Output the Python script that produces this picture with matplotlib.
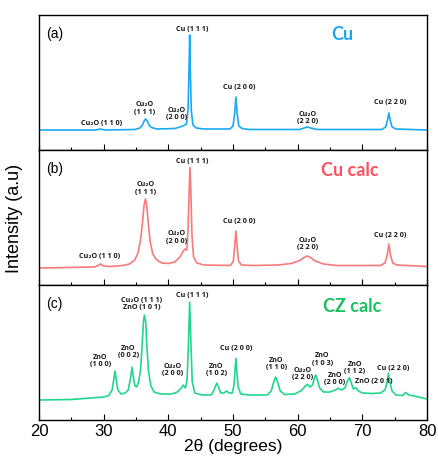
import matplotlib
matplotlib.use("Agg")
import matplotlib.pyplot as plt
from matplotlib.ticker import MultipleLocator

# ---------------- data ----------------
# Panel (a): Cu
cu_x = [20, 28.8, 29.5, 30.2, 34.8, 35.6, 36.0, 36.25, 36.5, 36.75, 37.0, 37.4, 38.2,
        41.0, 41.8, 42.4, 42.8, 43.05, 43.18, 43.3, 43.42, 43.55, 43.8, 44.3, 45.5,
        49.5, 50.0, 50.25, 50.45, 50.65, 50.9, 51.4, 52.5, 60.3, 61.0, 61.5, 62.0, 63.0,
        73.0, 73.6, 73.9, 74.1, 74.3, 74.6, 75.2, 80]
cu_y = [20, 20, 21, 20, 20.5, 22, 25, 29, 31, 29, 25, 22.5, 21,
        21.5, 23, 24.5, 26, 40, 75, 115, 75, 40, 25, 22, 21,
        21, 24, 36, 53, 36, 24, 21.5, 20.5, 20.5, 22, 23, 22, 20.5,
        20.5, 23, 30, 37, 30, 23, 21, 20]

# Panel (b): Cu calc
cuc_x = [20, 28.5, 29.0, 29.5, 30.0, 31, 33, 34, 34.8, 35.3, 35.7, 36.0, 36.25, 36.45,
         36.65, 36.9, 37.2, 37.6, 38.2, 39.0, 40.0, 41.0, 41.8, 42.3, 42.6, 42.85, 43.05,
         43.2, 43.35, 43.5, 43.65, 43.9, 44.4, 45.5, 49.6, 50.05, 50.25, 50.45, 50.65,
         50.85, 51.3, 53, 57, 59, 60.3, 61.0, 61.5, 62.0, 62.7, 64, 66, 72.8, 73.5, 73.85,
         74.1, 74.35, 74.7, 75.3, 80]
cuc_y = [17, 18, 19, 21, 19, 18.5, 19.5, 21, 25, 32, 45, 62, 80, 86,
         80, 62, 43, 31, 25, 22, 21.5, 23, 28, 34, 36, 35, 55,
         90, 117.7, 90, 50, 28, 22, 20, 19.5, 24, 38, 54, 38,
         24, 20, 19.5, 20, 21.5, 24.5, 27.5, 29, 27.5, 24, 21, 19.5, 19.5, 22, 30,
         41, 30, 22, 20, 18.5]

# Panel (c): CZ calc
cz_x = [20, 25, 28, 30, 30.8, 31.3, 31.55, 31.75, 31.95, 32.2, 32.7, 33.3, 33.8, 34.1,
        34.4, 34.6, 34.85, 35.1, 35.4, 35.7, 35.95, 36.15, 36.3, 36.5, 36.7, 36.95, 37.3,
        37.8, 38.8, 40.5, 41.4, 42.0, 42.3, 42.65, 42.9, 43.1, 43.3, 43.5, 43.7, 44.1,
        45.2, 46.6, 47.0, 47.3, 47.5, 47.75, 48.1, 48.6, 49.0, 49.4, 49.9, 50.15, 50.3,
        50.45, 50.6, 50.8, 51.2, 52.5, 55.3, 55.9, 56.3, 56.6, 56.9, 57.3, 58.0, 59.5,
        60.5, 61.2, 61.5, 61.9, 62.3, 62.6, 62.8, 63.05, 63.4, 64.0, 65.0, 65.8, 66.3,
        66.8, 67.3, 67.7, 68.0, 68.3, 68.6, 69.0, 69.4, 70.0, 71.5, 72.8, 73.5, 73.8,
        74.05, 74.3, 74.6, 75.2, 76.2, 76.7, 77.2, 78, 80]
cz_y = [20, 20.5, 22, 23, 24.5, 30, 40, 49, 40, 30, 26, 27, 30, 40,
        52.7, 42, 34, 33, 38, 50, 75, 98, 105, 98, 72, 48, 34,
        28, 26, 26, 28, 32, 35, 32, 40, 75, 117.7, 75, 38, 27,
        25, 25, 29, 34, 36.7, 33, 27, 27, 29, 27, 27, 35, 48,
        61.7, 48, 33, 26, 25, 25, 29, 38, 43, 38, 29, 25.5, 26,
        29, 34, 35.7, 33, 35, 42, 45, 40, 32, 28, 28, 30, 31.7,
        30, 32, 39, 42.3, 37, 31, 32.3, 29, 27, 26.5, 27, 30, 37,
        46.7, 37, 29, 25, 24.5, 27.5, 25, 24, 21]

series_x = [cu_x, cuc_x, cz_x]
series_y = [cu_y, cuc_y, cz_y]
panel_tags = ["(a)", "(b)", "(c)"]
sample_names = ["Cu", "Cu calc", "CZ calc"]

# peak labels: (text, 2theta, intensity)
labels_a = [("Cu\u2082O (1 1 0)", 29.7, 26), ("Cu\u2082O\n(1 1 1)", 36.4, 41.3),
            ("Cu\u2082O\n(2 0 0)", 41.3, 36), ("Cu (1 1 1)", 43.75, 121),
            ("Cu (2 0 0)", 50.9, 62), ("Cu\u2082O\n(2 2 0)", 61.5, 32),
            ("Cu (2 2 0)", 74.25, 47.3)]
labels_b = [("Cu\u2082O (1 1 0)", 29.3, 28.3), ("Cu\u2082O\n(1 1 1)", 36.5, 96.3),
            ("Cu\u2082O\n(2 0 0)", 41.3, 47.5), ("Cu (1 1 1)", 43.75, 123.7),
            ("Cu (2 0 0)", 50.9, 63.3), ("Cu\u2082O\n(2 2 0)", 61.5, 41.2),
            ("Cu (2 2 0)", 74.25, 50)]
labels_c = [("Cu\u2082O (1 1 1)\nZnO (1 0 1)", 35.9, 115.8), ("Cu (1 1 1)", 43.75, 125),
            ("ZnO\n(1 0 0)", 29.5, 59.2), ("ZnO\n(0 0 2)", 33.8, 68.2),
            ("Cu\u2082O\n(2 0 0)", 40.65, 50), ("ZnO\n(1 0 2)", 47.45, 50),
            ("Cu (2 0 0)", 50.55, 71.7), ("ZnO\n(1 1 0)", 56.7, 55.8),
            ("Cu\u2082O\n(2 2 0)", 60.75, 46.2), ("ZnO\n(1 0 3)", 63.85, 60.3),
            ("ZnO\n(2 0 0)", 65.75, 40.8), ("ZnO\n(1 1 2)", 68.85, 52.2),
            ("ZnO (2 0 1)", 71.7, 39), ("Cu (2 2 0)", 74.75, 51.7)]
peak_labels = [labels_a, labels_b, labels_c]

x_ticks = [20, 30, 40, 50, 60, 70, 80]

# ---------------- styling ----------------
line_colors = ["#1aaaf5", "#f87a7a", "#22d68e"]
title_colors = ["#18a8f0", "#ff5060", "#18c25e"]
label_font = ["Liberation Sans Narrow", "Open Sans", "DejaVu Sans"]
title_font = ["Lato", "DejaVu Sans"]
axis_font = ["Liberation Sans", "DejaVu Sans"]

fig = plt.figure(figsize=(4.38, 4.65), dpi=100)
left, right = 39 / 438, 427 / 438
bottom, top = 1 - 420 / 465, 1 - 15 / 465
h = (top - bottom) / 3

axes = []
for i in range(3):
    ax = fig.add_axes([left, top - (i + 1) * h, right - left, h])
    axes.append(ax)
    ax.plot(series_x[i], series_y[i], color=line_colors[i], lw=1.2)
    ax.set_xlim(20, 80)
    ax.set_ylim(0, 135)
    ax.set_yticks([])
    ax.xaxis.set_major_locator(MultipleLocator(10))
    ax.xaxis.set_minor_locator(MultipleLocator(5))
    ax.tick_params(axis="x", which="major", direction="in", length=4.5, width=0.8,
                   top=False)
    ax.tick_params(axis="x", which="minor", direction="in", length=2.5, width=0.8,
                   top=False)
    for s in ax.spines.values():
        s.set_linewidth(1.0)
    ax.text(0.018, 0.86, panel_tags[i], transform=ax.transAxes, fontsize=10,
            family=axis_font, va="center", ha="left")
    for txt, px, py in peak_labels[i]:
        ax.text(px, py, txt, fontsize=5.2, fontweight="bold", family=label_font,
                ha="center", va="center", linespacing=1.1, color="#1a1a1a")
    if i < 2:
        ax.tick_params(axis="x", labelbottom=False)

# sample names placed in figure coordinates
name_pos = [(342, 34), (350, 171), (352, 307)]
for i in range(3):
    px, py = name_pos[i]
    fig.text(px / 438, 1 - py / 465, sample_names[i], color=title_colors[i],
             fontsize=13, fontweight="bold", family=title_font, ha="center", va="center")

axes[2].set_xticks(x_ticks)
axes[2].set_xticklabels([str(t) for t in x_ticks], fontsize=12, family=axis_font)
axes[2].tick_params(axis="x", which="major", pad=3)
axes[2].set_xlabel("2\u03b8 (degrees)", fontsize=12.5, family=axis_font, labelpad=0)

fig.text(15 / 438, 1 - 218 / 465, "Intensity (a.u)", rotation=90, fontsize=13,
         family=axis_font, ha="center", va="center")

fig.savefig("out.png", dpi=100)
